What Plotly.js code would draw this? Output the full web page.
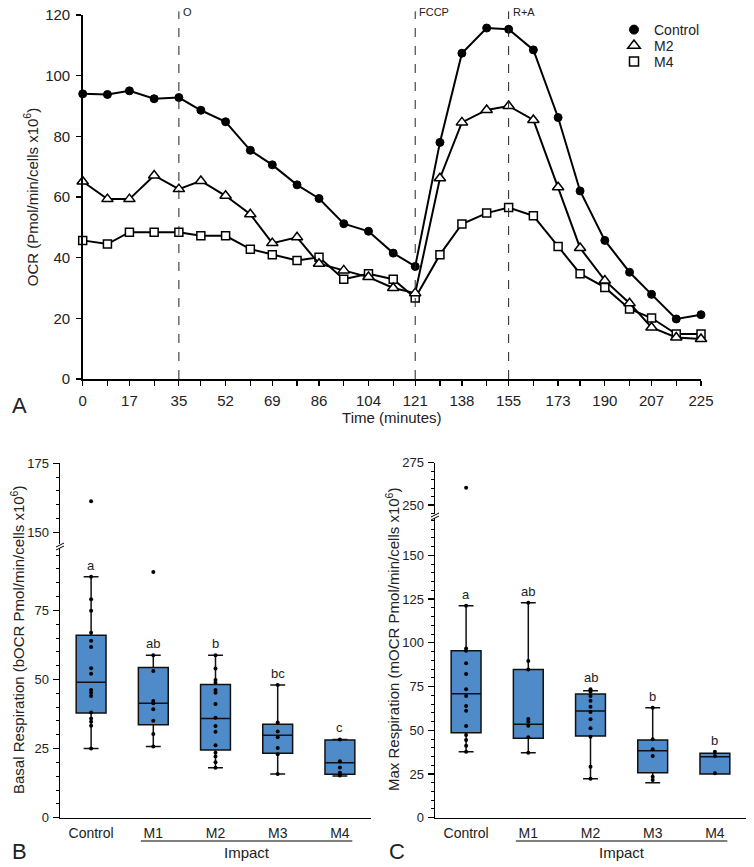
<!DOCTYPE html>
<html><head><meta charset="utf-8">
<script src="https://cdn.plot.ly/plotly-3.0.1.min.js"></script>
<style>html,body{margin:0;padding:0;background:#fff}#chart{width:754px;height:867px}</style>
</head><body><div id="chart"></div>
<script>
// ---------- Panel A data ----------
const times = [0,9,17,26,35,43,52,61,69,78,86,95,104,113,121,130,138,147,155,164,173,181,190,199,207,216,225];
const timeLabels = ['0','','17','','35','','52','','69','','86','','104','','121','','138','','155','','173','','190','','207','','225'];
const ocrControl = [94.0,93.8,95.0,92.4,92.8,88.6,84.8,75.4,70.6,64.0,59.5,51.2,48.7,41.5,37.1,78.0,107.4,115.7,115.3,108.5,86.2,62.0,45.7,35.2,27.9,19.8,21.2];
const ocrM2 = [65.1,59.3,59.3,67.1,62.6,65.3,60.4,54.3,44.8,46.7,38.0,35.8,33.6,30.0,28.3,66.2,84.6,88.7,90.0,85.4,63.2,43.2,32.5,25.0,17.0,13.7,13.2];
const ocrM4 = [45.7,44.5,48.4,48.4,48.4,47.2,47.2,42.8,41.0,39.1,40.1,32.9,34.7,32.9,26.7,41.0,51.1,54.7,56.5,53.8,43.7,34.7,30.2,23.1,20.1,14.8,14.8];
const injectionTimes = [35,121,155];
const injectionLabels = ['O','FCCP','R+A'];

// ---------- Panel B/C shared ----------
const groups = ['Control','M1','M2','M3','M4'];

// ---------- Panel B: basal respiration ----------
const basalQ1 = [37.9,33.6,24.5,23.3,15.7];
const basalMedian = [49.0,41.4,35.9,29.8,19.9];
const basalQ3 = [66.0,54.3,48.2,33.8,28.1];
const basalLower = [25.0,25.8,18.1,15.8,15.1];
const basalUpper = [87.2,58.8,58.8,48.0,28.3];
const basalControl = [161.2,87.2,79.0,74.9,66.9,64.0,61.8,54.1,52.1,46.2,45.2,44.0,38.1,35.9,34.7,33.3,25.0];
const basalM1 = [88.9,58.8,53.1,42.2,41.4,39.2,35.1,30.3,25.8];
const basalM2 = [58.8,54.0,49.8,48.8,46.2,45.2,41.1,36.2,33.2,31.1,26.2,23.5,22.1,20.1,18.1];
const basalM3 = [48.0,34.4,31.2,29.1,25.2,23.0,15.8];
const basalM4 = [28.3,20.4,18.2,16.3,15.3];
const basalLetters = ['a','ab','b','bc','c'];

// ---------- Panel C: max respiration ----------
const maxQ1 = [48.6,45.4,46.7,25.7,25.0];
const maxMedian = [70.9,53.4,61.0,38.3,34.9];
const maxQ3 = [95.5,84.8,70.7,44.4,36.8];
const maxLower = [37.7,37.2,22.3,20.0,25.0];
const maxUpper = [121.2,122.9,72.6,62.9,36.8];
const maxControl = [260.2,121.2,96.8,95.5,88.3,82.2,73.4,69.6,63.9,61.2,52.4,47.3,44.4,41.2,37.7];
const maxM1 = [122.9,89.6,84.8,56.4,54.9,52.6,46.0,37.2];
const maxM2 = [73.4,72.0,69.6,66.9,63.5,60.4,56.3,51.1,46.3,29.2,22.3];
const maxM3 = [62.9,44.8,39.1,35.3,23.4,21.6];
const maxM4 = [37.7,35.3,25.4];
const maxLetters = ['a','ab','ab','b','b'];

// ---------- layout helpers (pixel -> paper) ----------
const W = 754, H = 867;
const px = v => v / W;
const py = v => 1 - v / H;

const BOX_FILL = '#4f8ac9';
const FONT = 'Liberation Sans, Arial, Helvetica, sans-serif';
const TXT = '#222';

// axis break ranges (lower segment / upper segment)
const B_LOWER = [0, 98.3], B_UPPER = [145, 175];
const C_LOWER = [0, 172.5], C_UPPER = [243.5, 275];

const traces = [];

// Panel A lines
const seriesA = [
  {name:'Control', y: ocrControl, marker:{symbol:'circle', size:8, color:'#000', line:{color:'#000', width:1}}},
  {name:'M2', y: ocrM2, marker:{symbol:'triangle-up', size:10, color:'#fff', line:{color:'#000', width:1.5}}},
  {name:'M4', y: ocrM4, marker:{symbol:'square', size:8, color:'#fff', line:{color:'#000', width:1.5}}}
];
seriesA.slice().reverse().forEach(s => {
  traces.push({type:'scatter', mode:'lines+markers', x: times, y: s.y, name: s.name,
    line:{color:'#000', width:2}, marker: s.marker, cliponaxis:false, showlegend:false,
    xaxis:'x', yaxis:'y', hoverinfo:'x+y+name'});
});
const legendIds = ['legend','legend2','legend3'];
seriesA.forEach((s, i) => {
  traces.push({type:'scatter', mode:'markers', x:[null], y:[null], name: s.name, legend: legendIds[i],
    marker: Object.assign({}, s.marker, {size: s.marker.size + 1}), showlegend:true, xaxis:'x', yaxis:'y'});
});

function addPanel(xa, yLow, yUp, q1, med, q3, lo, up, pointSets, lowerMax) {
  traces.push({type:'box', xaxis:xa, yaxis:yLow, x: groups, q1: q1, median: med, q3: q3,
    lowerfence: lo, upperfence: up, boxpoints:false, fillcolor: BOX_FILL,
    line:{color:'#111', width:1.5}, width:0.48, whiskerwidth:0.5, showlegend:false, hoverinfo:'y'});
  const lx = [], ly = [], ux = [], uy = [];
  pointSets.forEach((vals, i) => vals.forEach(v => {
    if (v <= lowerMax) { lx.push(groups[i]); ly.push(v); } else { ux.push(groups[i]); uy.push(v); }
  }));
  traces.push({type:'scatter', mode:'markers', x: lx, y: ly, xaxis:xa, yaxis:yLow,
    marker:{color:'#000', size:4}, showlegend:false, cliponaxis:false});
  traces.push({type:'scatter', mode:'markers', x: ux, y: uy, xaxis:xa, yaxis:yUp,
    marker:{color:'#000', size:4}, showlegend:false, cliponaxis:false});
}
addPanel('x2','y2','y3', basalQ1, basalMedian, basalQ3, basalLower, basalUpper,
  [basalControl, basalM1, basalM2, basalM3, basalM4], B_LOWER[1]);
addPanel('x3','y4','y5', maxQ1, maxMedian, maxQ3, maxLower, maxUpper,
  [maxControl, maxM1, maxM2, maxM3, maxM4], C_LOWER[1]);

// ---------- axes ----------
const lineAx = {showline:true, linecolor:'#000', linewidth:1.5, showgrid:false, zeroline:false};
const yBox = (domain, range, anchor) => Object.assign({}, lineAx, {
  domain: domain, range: range, anchor: anchor, tick0:0, dtick:25, ticks:'outside', ticklen:6, tickwidth:1.2,
  tickcolor:'#000', tickfont:{size:13, color:TXT}, ticklabelstandoff:1,
  minor:{dtick:5, tick0:0, ticks:'outside', ticklen:3, tickwidth:1, tickcolor:'#000', showgrid:false}
});
const xBox = (domain, anchor) => Object.assign({}, lineAx, {
  domain: domain, anchor: anchor, type:'category', range:[-0.5, 4.5], ticks:'',
  tickfont:{size:14, color:TXT}, ticklabelstandoff:2
});

const annotations = [];
injectionTimes.forEach((t, i) => annotations.push({xref:'x', yref:'y domain', x:t, y:1.008,
  text: injectionLabels[i], showarrow:false, xanchor:'left', yanchor:'middle', xshift:2, font:{size:11, color:TXT}}));
function lettersFor(xa, ya, letters, up, pointSets, lowerMax) {
  letters.forEach((L, i) => {
    const top = Math.max(up[i], ...pointSets[i].filter(v => v <= lowerMax && v < up[i] + 3));
    annotations.push({xref:xa, yref:ya, x: groups[i], y: top, text: L, showarrow:false,
      xanchor:'center', yanchor:'bottom', yshift:2, font:{size:13, color:TXT}});
  });
}
lettersFor('x2','y2', basalLetters, basalUpper, [basalControl, basalM1, basalM2, basalM3, basalM4], B_LOWER[1]);
lettersFor('x3','y4', maxLetters, maxUpper, [maxControl, maxM1, maxM2, maxM3, maxM4], C_LOWER[1]);

const paperText = (x, y, text, size, extra) => annotations.push(Object.assign({xref:'paper', yref:'paper',
  x:px(x), y:py(y), text:text, showarrow:false, xanchor:'center', yanchor:'middle', font:{size:size, color:TXT}}, extra || {}));
paperText(17, 640, 'Basal Respiration (bOCR Pmol/min/cells x10<sup>6</sup>)', 15, {textangle:-90});
paperText(392, 640, 'Max Respiration (mOCR Pmol/min/cells x10<sup>6</sup>)', 15, {textangle:-90});
annotations.push({xref:'x2', yref:'paper', x:2.5, y:py(852), text:'Impact', showarrow:false,
  xanchor:'center', yanchor:'middle', font:{size:15, color:TXT}});
annotations.push({xref:'x3', yref:'paper', x:2.5, y:py(852), text:'Impact', showarrow:false,
  xanchor:'center', yanchor:'middle', font:{size:15, color:TXT}});
paperText(19, 405, 'A', 22);
paperText(19, 851, 'B', 22);
paperText(397, 851, 'C', 22);

const shapes = [];
injectionTimes.forEach(t => shapes.push({type:'line', xref:'x', yref:'y domain', x0:t, x1:t, y0:0, y1:1.01,
  line:{color:'#222', width:1, dash:'dash'}}));
shapes.push({type:'line', xref:'x2', yref:'paper', x0:0.8, x1:4.2, y0:py(841), y1:py(841), line:{color:'#000', width:1.2}});
shapes.push({type:'line', xref:'x3', yref:'paper', x0:0.8, x1:4.2, y0:py(841), y1:py(841), line:{color:'#000', width:1.2}});
function breakMark(xAx, yPix) {
  shapes.push({type:'rect', xref:'paper', yref:'paper', x0:px(xAx-4), x1:px(xAx+4), y0:py(yPix+2), y1:py(yPix-2),
    fillcolor:'#fff', line:{width:0}});
  shapes.push({type:'line', xref:'paper', yref:'paper', x0:px(xAx-4), x1:px(xAx+4), y0:py(yPix+1), y1:py(yPix-3), line:{color:'#000', width:1}});
  shapes.push({type:'line', xref:'paper', yref:'paper', x0:px(xAx-4), x1:px(xAx+4), y0:py(yPix+4), y1:py(yPix), line:{color:'#000', width:1}});
}
breakMark(60, 546);
breakMark(435, 516);

const legendBase = {x:px(614), xanchor:'left', yanchor:'middle', font:{size:14, color:TXT},
  bgcolor:'rgba(0,0,0,0)', itemwidth:30, borderwidth:0};

const layout = {
  width: W, height: H, margin:{l:0, r:0, t:0, b:0},
  paper_bgcolor:'#fff', plot_bgcolor:'rgba(0,0,0,0)',
  font:{family: FONT, color: TXT},
  showlegend:true,
  legend: Object.assign({}, legendBase, {y:py(30)}),
  legend2: Object.assign({}, legendBase, {y:py(46)}),
  legend3: Object.assign({}, legendBase, {y:py(62)}),
  xaxis: Object.assign({}, lineAx, {domain:[px(82.7), px(701)], anchor:'y', range:[0,225],
    tickmode:'array', tickvals: times, ticktext: timeLabels, ticks:'outside', ticklen:5, tickwidth:1.2, tickcolor:'#000',
    tickfont:{size:15, color:TXT}, ticklabelstandoff:2,
    title:{text:'Time (minutes)', font:{size:15, color:TXT}, standoff:0}}),
  yaxis: Object.assign({}, lineAx, {domain:[py(379), py(15)], anchor:'x', range:[0,120], dtick:20,
    ticks:'outside', ticklen:5, tickwidth:1.2, tickcolor:'#000', tickfont:{size:15, color:TXT}, ticklabelstandoff:3,
    title:{text:'OCR (Pmol/min/cells x10<sup>6</sup>)', font:{size:15, color:TXT}, standoff:3}}),
  xaxis2: xBox([px(60), px(371)], 'y2'),
  yaxis2: yBox([py(817.7), py(546)], B_LOWER, 'x2'),
  yaxis3: yBox([py(546), py(463.3)], B_UPPER, 'x2'),
  xaxis3: xBox([px(435), px(746)], 'y4'),
  yaxis4: yBox([py(817.7), py(516)], C_LOWER, 'x3'),
  yaxis5: yBox([py(516), py(462.7)], C_UPPER, 'x3'),
  annotations: annotations,
  shapes: shapes
};

Plotly.newPlot('chart', traces, layout, {displayModeBar:false, staticPlot:true});
</script>
</body></html>
